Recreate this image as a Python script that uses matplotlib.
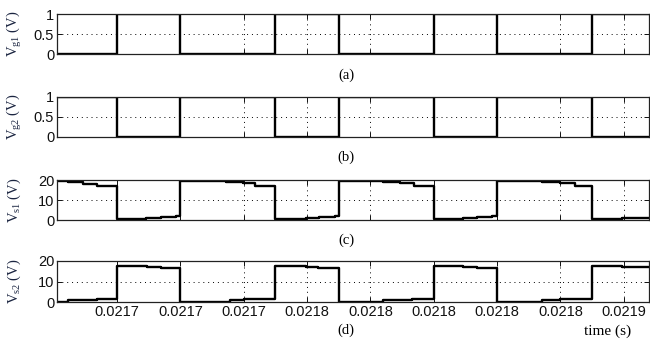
import matplotlib
matplotlib.use("Agg")
import matplotlib.pyplot as plt
from matplotlib.ticker import FormatStrFormatter
import numpy as np

# gate signals, switching instants (s) and logic level after each instant
t_gate = [0.02168, 0.02170, 0.02172, 0.02175, 0.02177, 0.02180, 0.02182, 0.02185, 0.021868]
vg1 = [0, 1, 0, 1, 0, 1, 0, 1, 1]
vg2 = [1, 0, 1, 0, 1, 0, 1, 0, 0]

# switch voltage Vs1, sampled staircase (s, V)
t_vs1 = [0.021680, 0.0216845, 0.0216893, 0.0216937,
         0.021700, 0.021709, 0.021714, 0.0217187,
         0.021720, 0.0217345, 0.0217397, 0.0217437,
         0.021750, 0.0217597, 0.0217639, 0.0217687,
         0.021770, 0.0217841, 0.0217892, 0.0217939,
         0.021800, 0.0218091, 0.0218138, 0.0218185,
         0.021820, 0.0218343, 0.0218398, 0.0218446,
         0.021850, 0.0218595, 0.021868]
vs1 = [19.7, 19.1, 18.2, 16.9,
       0.3, 0.8, 1.4, 2.2,
       19.7, 19.2, 18.3, 17.1,
       0.3, 0.8, 1.4, 2.2,
       19.7, 19.2, 18.3, 17.1,
       0.3, 0.8, 1.4, 2.2,
       19.7, 19.2, 18.3, 17.1,
       0.3, 0.9, 0.9]

# switch voltage Vs2
t_vs2 = [0.021680, 0.0216845, 0.0216937,
         0.021700, 0.0217093, 0.021714,
         0.021720, 0.0217355, 0.0217402,
         0.021750, 0.0217597, 0.0217635,
         0.021770, 0.0217841, 0.0217932,
         0.021800, 0.0218091, 0.0218138,
         0.021820, 0.0218343, 0.02184,
         0.021850, 0.0218595, 0.021868]
vs2 = [0.0, 1.0, 1.5,
       17.7, 17.1, 16.5,
       0.0, 0.9, 1.5,
       17.7, 17.1, 16.5,
       0.0, 0.9, 1.5,
       17.7, 17.1, 16.5,
       0.0, 0.9, 1.5,
       17.7, 17.3, 17.3]

x_ticks = [0.02170, 0.02172, 0.02174, 0.02176, 0.02178,
           0.02180, 0.02182, 0.02184, 0.02186]
x_lim = (0.021681, 0.021868)

panels = [
    (t_gate, vg1, (0, 1), [0, 0.5, 1], ["0", "0.5", "1"], r"$\mathregular{V_{g1}}$ (V)", "(a)"),
    (t_gate, vg2, (0, 1), [0, 0.5, 1], ["0", "0.5", "1"], r"$\mathregular{V_{g2}}$ (V)", "(b)"),
    (t_vs1, vs1, (0, 20), [0, 10, 20], ["0", "10", "20"], r"$\mathregular{V_{s1}}$ (V)", "(c)"),
    (t_vs2, vs2, (0, 20), [0, 10, 20], ["0", "10", "20"], r"$\mathregular{V_{s2}}$ (V)", "(d)"),
]

plt.rcParams["font.family"] = "Liberation Sans"
plt.rcParams["mathtext.fontset"] = "custom"
plt.rcParams["mathtext.rm"] = "Liberation Serif"

W, H = 650, 340
fig = plt.figure(figsize=(6.5, 3.4), dpi=100)

# top and bottom pixel rows of each panel
rows = [(14, 54), (97, 137), (180, 220), (261, 302)]
label_y = [75, 157, 240, 330]
left, right = 57, 649

for i, ((t, v, ylim, yt, ytl, ylab, tag), (top, bot)) in enumerate(zip(panels, rows)):
    ax = fig.add_axes([left / W, 1 - bot / H, (right - left) / W, (bot - top) / H])
    ax.plot(t, v, drawstyle="steps-post", color="black", lw=1.7)
    ax.set_xlim(*x_lim)
    ax.set_ylim(*ylim)
    ax.set_xticks(x_ticks)
    ax.set_yticks(yt)
    ax.set_yticklabels(ytl)
    ax.grid(True, color="black", lw=0.7, linestyle=(0, (1, 4)))
    ax.tick_params(direction="in", top=True, right=True, length=3.5, width=0.7,
                   labelsize=10.5, pad=2, colors="#111111")
    for s in ax.spines.values():
        s.set_linewidth(0.9)
        s.set_color("#222222")
    if i < 3:
        ax.set_xticklabels([])
    else:
        ax.xaxis.set_major_formatter(FormatStrFormatter("%.4f"))
    fig.text(14 / W, 1 - (top + bot) / 2 / H, ylab, rotation=90, ha="center",
             va="center", fontsize=10.5, family="Liberation Serif", color="#1a2440")
    fig.text(346 / W, 1 - label_y[i] / H, tag, ha="center", va="center",
             fontsize=10.5, family="Liberation Serif")

fig.text(608 / W, 1 - 331 / H, "time (s)", ha="center", va="center",
         fontsize=11, family="Liberation Serif")

fig.savefig("out.png", dpi=100)
